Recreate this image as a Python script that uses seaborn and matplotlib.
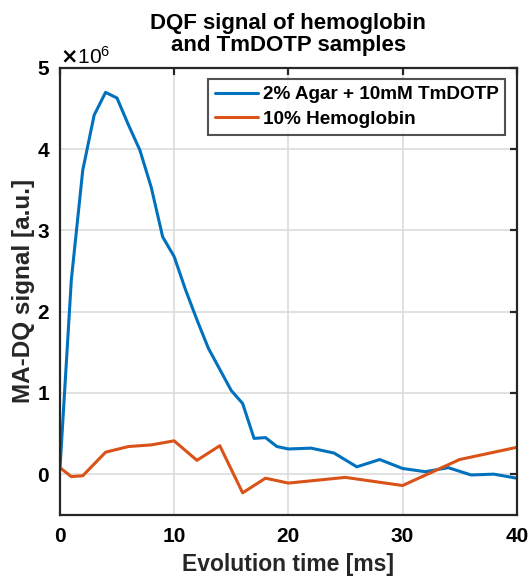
import matplotlib
matplotlib.use("Agg")
import matplotlib.pyplot as plt
import seaborn as sns
import pandas as pd
import numpy as np
from matplotlib.ticker import ScalarFormatter

# Data (signal values in units of 1e6)
agar_time = [0, 1, 2, 3, 4, 5, 6, 7, 8, 9, 10, 11, 12, 13, 14, 15, 16, 17, 18, 19, 20,
             22, 24, 26, 28, 30, 32, 34, 36, 38, 40]
agar_signal = [0.05, 2.39, 3.74, 4.42, 4.70, 4.63, 4.30, 3.99, 3.53, 2.92, 2.68, 2.27, 1.90,
               1.55, 1.29, 1.03, 0.87, 0.44, 0.45, 0.34, 0.31,
               0.32, 0.26, 0.09, 0.18, 0.07, 0.03, 0.08, -0.01, 0.0, -0.05]
hemo_time = [0, 1, 2, 4, 6, 8, 10, 12, 14, 16, 18, 20, 25, 30, 35, 40]
hemo_signal = [0.08, -0.03, -0.02, 0.27, 0.34, 0.36, 0.41, 0.17, 0.35, -0.23, -0.05,
               -0.11, -0.04, -0.14, 0.18, 0.33]
series_names = ["2% Agar + 10mM TmDOTP", "10% Hemoglobin"]
scale = 1e6

df = pd.concat([
    pd.DataFrame({"time": agar_time, "signal": np.array(agar_signal) * scale, "sample": series_names[0]}),
    pd.DataFrame({"time": hemo_time, "signal": np.array(hemo_signal) * scale, "sample": series_names[1]}),
])

sns.set_style("white")
plt.rcParams["font.family"] = ["Liberation Sans", "DejaVu Sans"]
plt.rcParams["font.weight"] = "bold"

fig = plt.figure(figsize=(5.30, 5.81), dpi=100)
ax = fig.add_axes([0.113, 0.114, 0.862, 0.769])

sns.lineplot(data=df, x="time", y="signal", hue="sample", palette=["#0072BD", "#D95319"],
             linewidth=2.2, ax=ax, sort=False, estimator=None)

ax.set_xlim(0, 40)
ax.set_ylim(-0.5e6, 5e6)
ax.set_xticks([0, 10, 20, 30, 40])
ax.set_yticks(np.arange(0, 6) * 1e6)
fmt = ScalarFormatter(useMathText=True)
fmt.set_powerlimits((0, 0))
ax.yaxis.set_major_formatter(fmt)
ax.yaxis.get_offset_text().set_fontsize(15)
ax.yaxis.get_offset_text().set_fontweight("normal")
ax.yaxis.get_offset_text().set_color("black")

ax.grid(True, color="#dcdcdc", linewidth=1.2)
ax.set_axisbelow(True)
for s in ax.spines.values():
    s.set_color("#262626")
    s.set_linewidth(1.6)
    s.set_visible(True)
ax.tick_params(direction="in", length=5, width=1.6, top=True, right=True,
               labelsize=15, colors="#262626", labelcolor="black")
ax.tick_params(axis="x", pad=9)
ax.tick_params(axis="y", pad=7)
for lab in ax.get_xticklabels() + ax.get_yticklabels():
    lab.set_fontweight("bold")

ax.set_xlabel("Evolution time [ms]", fontsize=16.5, fontweight="bold", color="#262626", labelpad=5)
ax.set_ylabel("MA-DQ signal [a.u.]", fontsize=17.5, fontweight="bold", color="#262626", labelpad=1)
ax.set_title("DQF signal of hemoglobin\nand TmDOTP samples", fontsize=16, fontweight="bold",
             linespacing=1.1, pad=12, color="black")

leg = ax.legend(loc="upper right", fontsize=13.6, frameon=True, fancybox=False,
                edgecolor="#262626", handlelength=2.3, borderaxespad=0.6,
                handletextpad=0.25, borderpad=0.35, labelspacing=0.4)
leg.get_frame().set_linewidth(1.5)
for t in leg.get_texts():
    t.set_fontweight("bold")
    t.set_color("black")

fig.savefig("out.png", dpi=100)
